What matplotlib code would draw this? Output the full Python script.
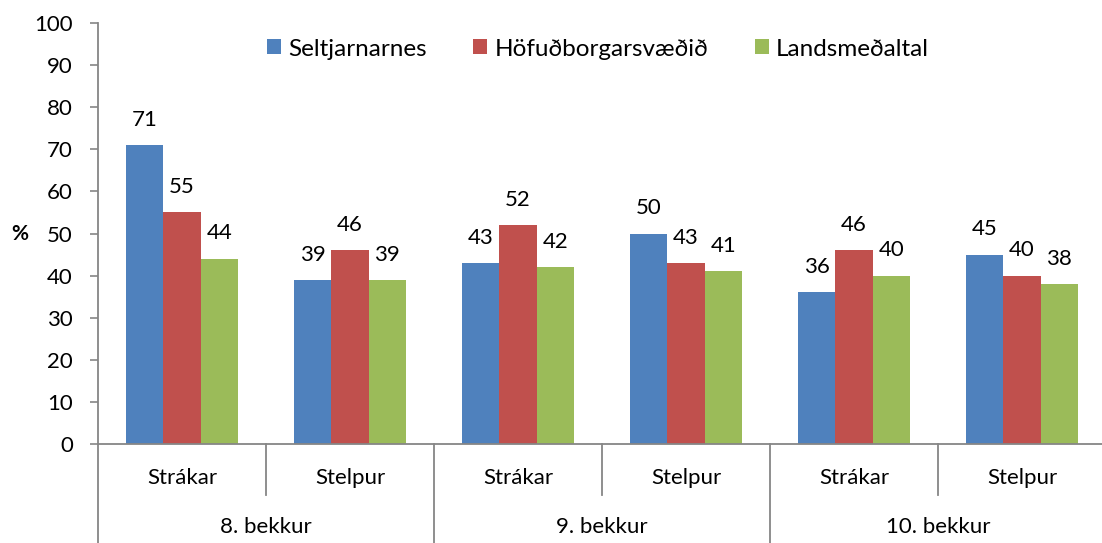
import matplotlib
matplotlib.use("Agg")
import matplotlib.pyplot as plt
import matplotlib.transforms as mtransforms
from matplotlib.lines import Line2D
import numpy as np

plt.rcParams['font.family'] = ['Lato', 'DejaVu Sans']

# Data
grades = ["8. bekkur", "9. bekkur", "10. bekkur"]
genders = ["Strákar", "Stelpur"]
series_names = ["Seltjarnarnes", "Höfuðborgarsvæðið", "Landsmeðaltal"]
seltjarnarnes = [71, 39, 43, 50, 36, 45]
hofudborgarsvaedid = [55, 46, 52, 43, 46, 40]
landsmedaltal = [44, 39, 42, 41, 40, 38]
y_ticks = [0, 10, 20, 30, 40, 50, 60, 70, 80, 90, 100]

colors = ["#4F81BD", "#C0504D", "#9BBB59"]
axis_gray = "#868686"
fs = 16

W, H = 1102, 543
fig = plt.figure(figsize=(W / 100, H / 100), dpi=100)
ax = fig.add_axes([98 / W, (H - 444) / H, 1008 / W, 421 / H])

n_groups = len(seltjarnarnes)
x = np.arange(n_groups) + 0.5
bar_w = 0.222
all_series = [seltjarnarnes, hofudborgarsvaedid, landsmedaltal]

bars = []
for i, (vals, col, name) in enumerate(zip(all_series, colors, series_names)):
    pos = x + (i - 1) * bar_w
    b = ax.bar(pos, vals, width=bar_w, color=col, label=name, zorder=2)
    bars.append(b)
    for px, v in zip(pos, vals):
        ax.annotate(str(v), (px, v), xytext=(0, 11), textcoords="offset points",
                    ha="center", va="bottom", fontsize=fs, color="black")

ax.set_xlim(0, n_groups)
ax.set_ylim(0, 100)
ax.set_yticks(y_ticks)
ax.tick_params(axis="y", length=6, width=1.2, color=axis_gray, labelsize=fs, pad=12)
ax.set_xticks([])
for s in ["top", "right"]:
    ax.spines[s].set_visible(False)
for s in ["left", "bottom"]:
    ax.spines[s].set_color(axis_gray)
    ax.spines[s].set_linewidth(1.3)

fig.text(20 / W, 1 - 234 / H, "%", fontsize=15, fontweight="bold",
         ha="center", va="center")

# Two-level category axis
trans = mtransforms.blended_transform_factory(ax.transData, fig.transFigure)
y_base = (H - 444) / H
y_sub = (H - 495) / H
y_bottom = 0.0
for k in range(n_groups + 1):
    y_end = y_bottom if k % 2 == 0 else y_sub
    fig.add_artist(Line2D([k, k], [y_base, y_end], transform=trans,
                          color=axis_gray, lw=1.3, clip_on=False))

for k in range(n_groups):
    ax.text(k + 0.5, (H - 478) / H, genders[k % 2], transform=trans,
            ha="center", va="center", fontsize=fs)
for g, name in enumerate(grades):
    ax.text(2 * g + 1, (H - 527) / H, name, transform=trans,
            ha="center", va="center", fontsize=fs)

fig.legend(handles=bars, labels=series_names, ncol=3, frameon=False,
           loc="center", bbox_to_anchor=(598 / W, 1 - 49 / H),
           fontsize=17.5, handlelength=0.58, handleheight=0.58,
           handletextpad=0.3, columnspacing=1.9)

fig.savefig("out.png", dpi=100)
